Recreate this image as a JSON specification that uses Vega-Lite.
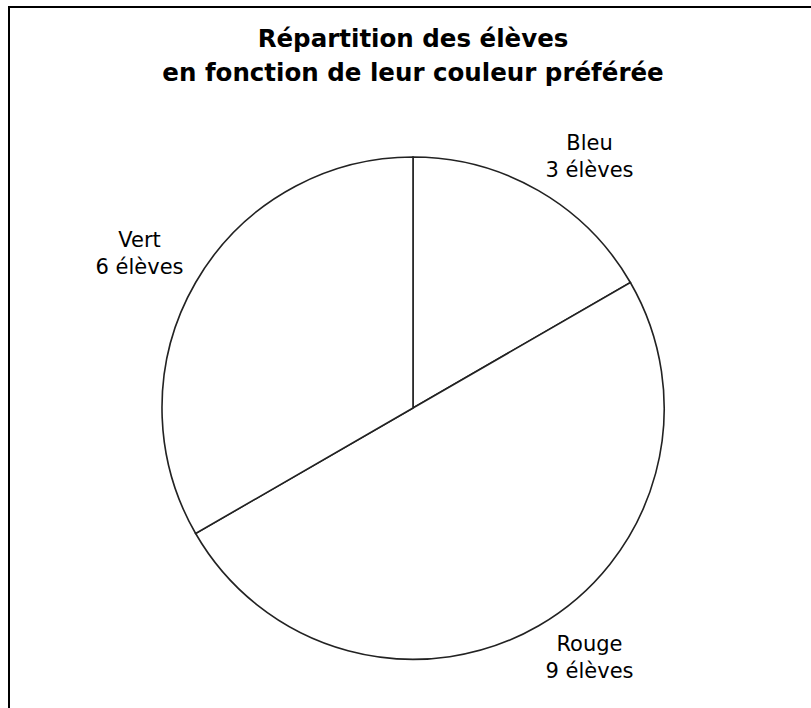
{
  "$schema": "https://vega.github.io/schema/vega-lite/v6.json",
  "autosize": {"type": "none"},
  "padding": {"left": 9, "top": 7, "right": 0, "bottom": 0},
  "width": 808,
  "height": 802,
  "background": "white",
  "view": {"stroke": "black", "strokeWidth": 2, "fill": "white"},
  "title": {
    "text": ["Répartition des élèves", "en fonction de leur couleur préférée"],
    "font": "DejaVu Sans",
    "fontSize": 24.5,
    "fontWeight": "bold",
    "color": "black",
    "lineHeight": 34,
    "anchor": "middle",
    "baseline": "top",
    "offset": -79
  },
  "data": {
    "values": [
      {"couleur": "Bleu", "n": 3},
      {"couleur": "Rouge", "n": 9},
      {"couleur": "Vert", "n": 6}
    ]
  },
  "transform": [
    {"joinaggregate": [{"op": "sum", "field": "n", "as": "total"}]},
    {"calculate": "[datum.couleur, datum.n + ' élèves']", "as": "etiquette"}
  ],
  "encoding": {
    "theta": {"field": "n", "type": "quantitative", "stack": true},
    "detail": {"field": "couleur", "type": "nominal"},
    "order": {"field": "couleur", "sort": "ascending"}
  },
  "layer": [
    {
      "mark": {"type": "arc", "radius": 251, "fill": "white", "stroke": "#222", "strokeWidth": 1.6}
    },
    {
      "mark": {
        "type": "text",
        "radius": 265,
        "font": "DejaVu Sans",
        "fontSize": 21,
        "lineHeight": 27,
        "color": "black",
        "align": "center",
        "baseline": "middle",
        "dx": {"expr": "sin(PI * (datum.n_start + datum.n_end) / datum.total) >= 0 ? 44 : -44"},
        "dy": {"expr": "(cos(PI * (datum.n_start + datum.n_end) / datum.total) >= 0 ? -21 : 21) - 13.5"}
      },
      "encoding": {"text": {"field": "etiquette"}}
    }
  ]
}
